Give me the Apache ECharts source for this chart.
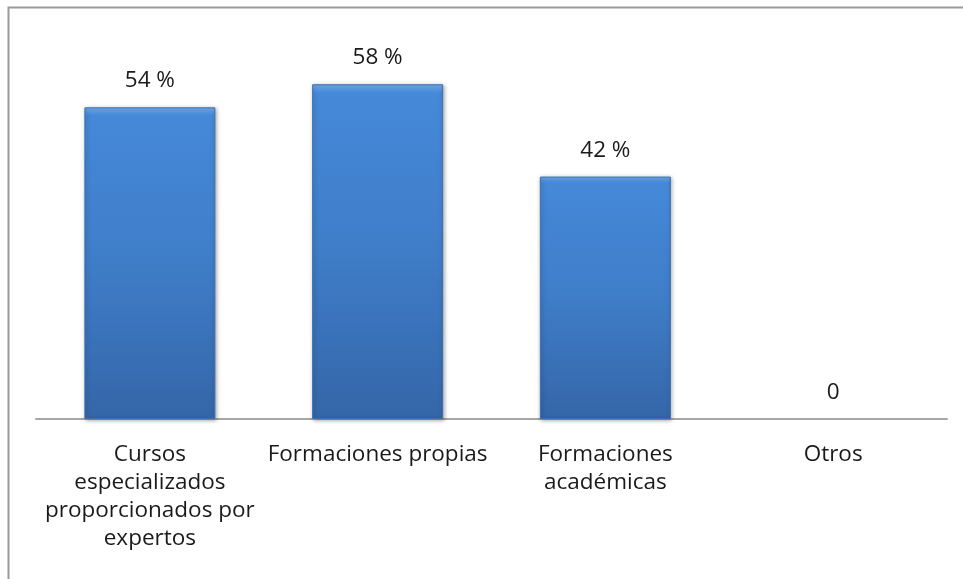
<!DOCTYPE html>
<html>
<head>
<meta charset="utf-8">
<script src="https://cdn.jsdelivr.net/npm/echarts@6/dist/echarts.min.js"></script>
<style>html,body{margin:0;padding:0;background:#fff}#c{width:963px;height:579px}</style>
</head>
<body>
<div id="c"></div>
<script>
var categories = ['Cursos\nespecializados\nproporcionados por\nexpertos', 'Formaciones propias', 'Formaciones\nacadémicas', 'Otros'];
var values = [54, 58, 42, 0];
var valueLabels = ['54 %', '58 %', '42 %', '0'];

var chart = echarts.init(document.getElementById('c'), null, {renderer: 'canvas'});
var barData = values.map(function (v) {
  return v === 0
    ? {value: v, itemStyle: {color: 'rgba(0,0,0,0)', borderWidth: 0, shadowBlur: 0, shadowColor: 'rgba(0,0,0,0)'}}
    : v;
});
chart.setOption({
  animation: false,
  backgroundColor: '#fff',
  graphic: [{
    type: 'rect', left: 6, top: 5, silent: true,
    shape: {width: 1000, height: 1000},
    style: {fill: 'none', stroke: '#9a9a9a', lineWidth: 2}
  }],
  grid: {left: 36, right: 16, top: 15, bottom: 160},
  xAxis: {
    type: 'category',
    data: categories,
    axisLine: {lineStyle: {color: '#a6a6a6', width: 2}},
    axisTick: {show: false},
    axisLabel: {
      fontFamily: 'Open Sans', fontSize: 22.5, color: '#1a1a1a',
      lineHeight: 28, margin: 22, interval: 0
    }
  },
  yAxis: {type: 'value', min: 0, max: 70, show: false, splitLine: {show: false}},
  series: [{
    type: 'bar',
    data: barData,
    barWidth: '57.5%',
    itemStyle: {
      color: {
        type: 'linear', x: 0, y: 0, x2: 0, y2: 1,
        colorStops: [
          {offset: 0, color: '#74b0ee'},
          {offset: 0.025, color: '#4589d9'},
          {offset: 0.5, color: '#3f7dc8'},
          {offset: 1, color: '#3466a8'}
        ]
      },
      borderColor: '#3a6fb2', borderWidth: 1,
      shadowColor: 'rgba(0,0,0,0.35)', shadowBlur: 4, shadowOffsetX: 1, shadowOffsetY: 1
    },
    label: {
      show: true, position: 'top', distance: 15,
      fontFamily: 'Open Sans', fontSize: 22.5, color: '#1a1a1a',
      formatter: function (p) { return valueLabels[p.dataIndex]; }
    }
  }]
});
</script>
</body>
</html>
